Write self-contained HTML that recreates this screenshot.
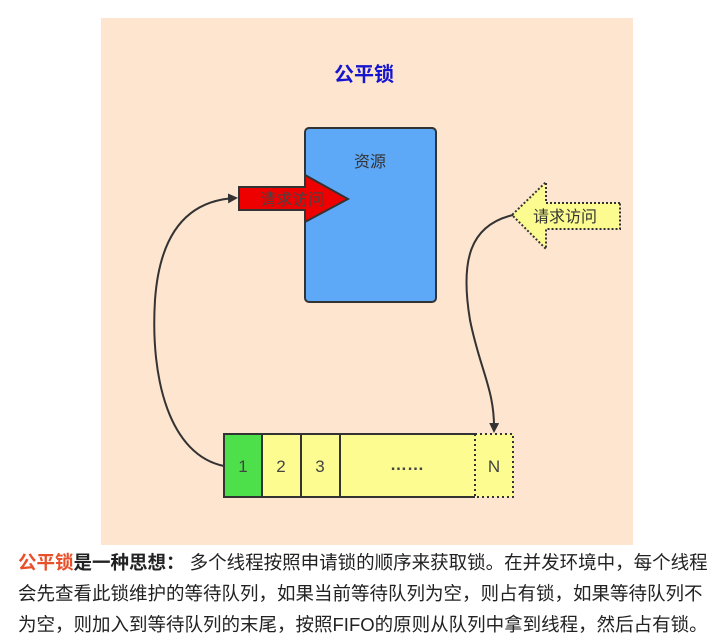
<!DOCTYPE html>
<html><head><meta charset="utf-8"><style>
body{margin:0;width:720px;height:644px;background:#fff;overflow:hidden;position:relative;font-family:"Liberation Sans","Noto Sans CJK SC",sans-serif}
.p{position:absolute;left:18px;font-size:18.5px;color:#222;white-space:nowrap;letter-spacing:0}
</style></head><body>
<svg width="720" height="644" style="position:absolute;left:0;top:0" font-family="Liberation Sans, Noto Sans CJK SC, sans-serif">
<defs><marker id="a" markerWidth="10" markerHeight="10" refX="8" refY="5" orient="auto" markerUnits="userSpaceOnUse"><path d="M0,0 L10,5 L0,10 z" fill="#333"/></marker></defs>
<rect x="101" y="18" width="532" height="527" fill="#fde5cf"/>
<text x="364" y="81" text-anchor="middle" font-size="20" font-weight="bold" fill="#1515d0">公平锁</text>
<rect x="305" y="128" width="131" height="174" rx="4" fill="#5ea8f8" stroke="#333" stroke-width="2"/>
<text x="370" y="167" text-anchor="middle" font-size="16" fill="#333">资源</text>
<path d="M239,187 L305,187 L305,175 L348,199 L305,222 L305,210 L239,210 Z" fill="#ee0000" stroke="#333" stroke-width="2"/>
<text x="292" y="205" text-anchor="middle" font-size="16" fill="#444">请求访问</text>
<path d="M620,203 L546,203 L546,182 L512,215 L546,249 L546,229 L620,229 Z" fill="#fbfb90" stroke="#333" stroke-width="2" stroke-dasharray="2,2"/>
<text x="565" y="222" text-anchor="middle" font-size="16" fill="#333">请求访问</text>
<path d="M224,466 C170,455 150,380 155,300 C160,230 190,200 236,198" fill="none" stroke="#333" stroke-width="2" marker-end="url(#a)"/>
<path d="M513,215 C470,225 460,260 470,320 C480,370 495,390 494,431" fill="none" stroke="#333" stroke-width="2" marker-end="url(#a)"/>
<rect x="224" y="434" width="289" height="63" fill="#fdfc91"/>
<rect x="224" y="434" width="38" height="63" fill="#4ee04a"/>
<path d="M475,434 L224,434 L224,497 L475,497 M262,434 L262,497 M301,434 L301,497 M340,434 L340,497" fill="none" stroke="#333" stroke-width="2"/>
<path d="M475,434 L513,434 L513,497 L475,497 Z" fill="none" stroke="#333" stroke-width="2" stroke-dasharray="2,3"/>
<g font-size="17" fill="#444" text-anchor="middle">
<text x="243" y="472">1</text><text x="281" y="472">2</text><text x="320" y="472">3</text><text x="407" y="470" font-weight="bold">……</text><text x="494" y="472">N</text></g>
</svg>
<div class="p" style="top:549px"><b><span style="color:#e8502a">公平锁</span>是一种思想：</b>&nbsp;多个线程按照申请锁的顺序来获取锁。在并发环境中，每个线程</div>
<div class="p" style="top:580px">会先查看此锁维护的等待队列，如果当前等待队列为空，则占有锁，如果等待队列不</div>
<div class="p" style="top:611px">为空，则加入到等待队列的末尾，按照FIFO的原则从队列中拿到线程，然后占有锁。</div>
</body></html>
